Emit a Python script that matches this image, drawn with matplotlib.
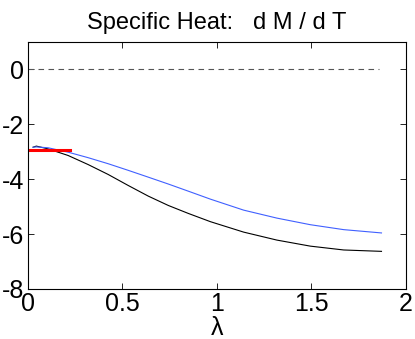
import matplotlib
matplotlib.use("Agg")
import matplotlib.pyplot as plt

plt.rcParams['font.family'] = ['Liberation Sans', 'DejaVu Sans']
plt.rcParams['axes.unicode_minus'] = False

# values
lam = [0.027, 0.044, 0.106, 0.212, 0.318, 0.424, 0.53, 0.637, 0.743, 0.849,
       0.966, 1.142, 1.318, 1.495, 1.672, 1.872]
dmdt_black = [-2.84, -2.80, -2.90, -3.14, -3.47, -3.83, -4.23, -4.62, -4.96,
              -5.25, -5.55, -5.93, -6.22, -6.44, -6.58, -6.63]
dmdt_blue = [-2.84, -2.83, -2.86, -3.02, -3.22, -3.44, -3.68, -3.93, -4.18,
             -4.44, -4.73, -5.13, -5.42, -5.66, -5.84, -5.96]
zero_x = [0, 1.86]
zero_y = [0, 0]
red_x = [0, 0.225]
red_y = [-2.93, -2.93]

fig = plt.figure(figsize=(4.15, 3.39), dpi=100)
ax = fig.add_axes([0.0675, 0.1475, 0.91, 0.7295])

ax.plot(zero_x, zero_y, '--', color='#555555', lw=0.8, dashes=(5, 4))
ax.plot(lam, dmdt_black, '-', color='black', lw=0.8)
ax.plot(lam, dmdt_blue, '-', color='#4060ff', lw=0.8)
ax.plot(red_x, red_y, '-', color='red', lw=2.2)

ax.set_xlim(0, 2)
ax.set_ylim(-8, 1)
ax.set_xticks([0, 0.5, 1, 1.5, 2])
ax.set_xticklabels(['0', '0.5', '1', '1.5', '2'])
ax.set_yticks([-8, -6, -4, -2, 0])
ax.tick_params(direction='in', top=True, right=True, labelsize=18,
               length=4, width=0.6)
ax.tick_params(axis='x', pad=2)
ax.tick_params(axis='y', pad=3)
for s in ax.spines.values():
    s.set_linewidth(0.8)

ax.set_xlabel('λ', fontsize=18, labelpad=0)
ax.set_title('Specific Heat:   d M / d T', fontsize=17, pad=9)

fig.savefig('out.png', dpi=100)
